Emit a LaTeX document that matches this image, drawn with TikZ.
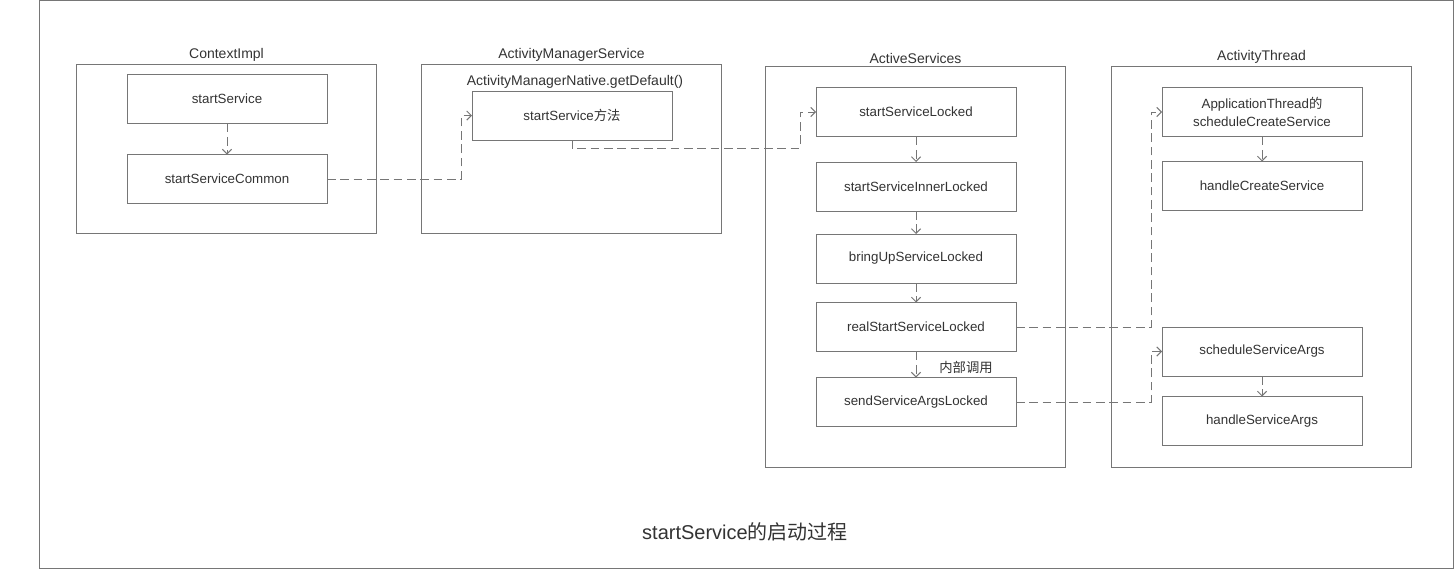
\documentclass[tikz,border=0pt]{standalone}
\usepackage{fontspec}
\setmainfont{Liberation Sans}
\newfontfamily\cjk{Noto Sans CJK SC}
\usetikzlibrary{arrows.meta}
\definecolor{edge}{RGB}{118,118,118}
\definecolor{ink}{RGB}{51,51,51}
\begin{document}
\begin{tikzpicture}[x=0.75pt,y=-0.75pt,
    group/.style = {rectangle,draw=edge,line width=0.75pt,minimum width=225pt,outer sep=0mm,
                    label={[text=ink,font=\fontsize{10.5}{12}\selectfont,inner sep=0pt,label distance=1.5pt]above:#1}},
    fn/.style = {rectangle,draw=edge,line width=0.75pt,minimum width=150pt,minimum height=36.75pt,
                 outer sep=0mm,text=ink,font=\fontsize{10}{13.5}\selectfont,align=center},
    link/.style = {draw=edge,line width=0.7pt,dash pattern=on 6.5pt off 3.5pt,
                   -{Straight Barb[length=3.5pt,width=7pt]}}]
\useasboundingbox (0,0) rectangle (1454,569);
\draw[edge,line width=0.75pt] (39,0.5) rectangle (1453,568);
\node[group=ContextImpl, minimum height=126.75pt] (ctx) at (226.5,148.5) {};
\node[group=ActivityManagerService, minimum height=126.75pt] (ams) at (571.5,148.5) {};
\node[group=ActiveServices, minimum height=300.75pt] (as) at (915.5,266.5) {};
\node[group=ActivityThread, minimum height=300.75pt] (at) at (1261.5,266.5) {};
\node[text=ink,font=\fontsize{10.5}{12}\selectfont] (native) at (575,82) {ActivityManagerNative.getDefault()};
\node[fn] (start) at (227,99) {startService};
\node[fn] (common) at (227,179) {startServiceCommon};
\node[fn] (method) at (572,115.5) {startService{\cjk 方法}};
\foreach \n/\y/\t in {locked/112/startServiceLocked, inner/186.5/startServiceInnerLocked,
                      bringup/258.5/bringUpServiceLocked, real/327/realStartServiceLocked,
                      send/402/sendServiceArgsLocked}
    \node[fn] (\n) at (916,\y) {\t};
\node[fn] (create) at (1262,112) {ApplicationThread{\cjk 的}\\scheduleCreateService};
\node[fn] (handlecreate) at (1262,186) {handleCreateService};
\node[fn] (schedargs) at (1262,351.5) {scheduleServiceArgs};
\node[fn] (handleargs) at (1262,421) {handleServiceArgs};
\node[text=ink,font=\fontsize{10}{12}\cjk] (inside) at (966,367) {内部调用};
\node[text=ink,font=\fontsize{15}{18}\selectfont] (caption) at (745,532) {startService{\cjk 的启动过程}};
\foreach \a/\b in {start/common, locked/inner, inner/bringup, bringup/real, real/send,
                   create/handlecreate, schedargs/handleargs}
    \draw[link] (\a) -- (\b);
\draw[link] (common.east) -- ++(134,0) |- (method.west);
\draw[link] (method.south) -- ++(0,8) -- ++(228,0) |- (locked.west);
\draw[link] (real.east) -- ++(135,0) |- (create.west);
\draw[link] (send.east) -- ++(135,0) |- (schedargs.west);
\end{tikzpicture}
\end{document}
